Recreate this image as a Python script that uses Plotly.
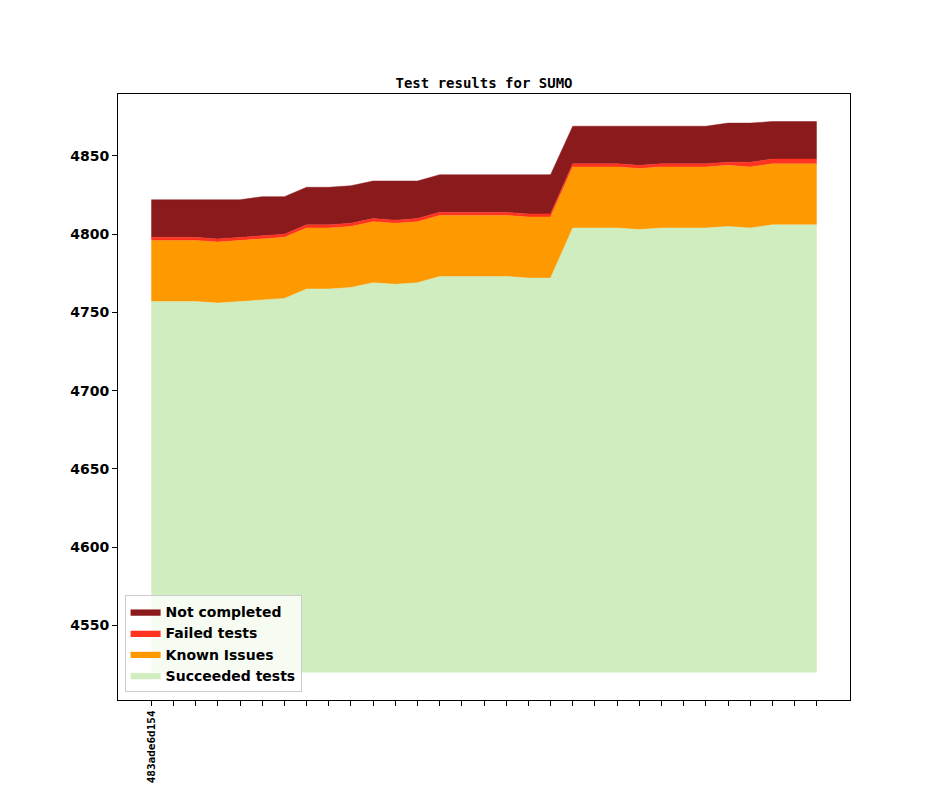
import numpy as np
import plotly.graph_objects as go

# one entry per commit, only the first one is labelled on the axis
commits = ["483ade6d154"] + [""] * 30

succeeded = [4757, 4757, 4757, 4756, 4757, 4758, 4759, 4765, 4765, 4766, 4769,
             4768, 4769, 4773, 4773, 4773, 4773, 4772, 4772, 4804, 4804, 4804,
             4803, 4804, 4804, 4804, 4805, 4804, 4806, 4806, 4806]
known_issues = [39, 39, 39, 39, 39, 39, 39, 39, 39, 39, 39, 39, 39, 39, 39, 39,
                39, 39, 39, 39, 39, 39, 39, 39, 39, 39, 39, 39, 39, 39, 39]
failed = [2, 2, 2, 2, 2, 2, 2, 2, 2, 2, 2, 2, 2, 2, 2, 2,
          2, 2, 2, 2, 2, 2, 2, 2, 2, 2, 2, 3, 3, 3, 3]
not_completed = [24, 24, 24, 25, 24, 25, 24, 24, 24, 24, 24, 25, 24, 24, 24, 24,
                 24, 25, 25, 24, 24, 24, 25, 24, 24, 24, 25, 25, 24, 24, 24]
base = 4520

x = np.arange(len(commits))
series = [
    ("Succeeded tests", succeeded, "#cfedbf"),
    ("Known Issues", known_issues, "#ff9900"),
    ("Failed tests", failed, "#ff3320"),
    ("Not completed", not_completed, "#8b1a1c"),
]

fig = go.Figure()
fig.add_trace(go.Scatter(x=x, y=[base] * len(x), mode="lines",
                         line=dict(width=0), showlegend=False, hoverinfo="skip"))
level = np.zeros(len(x))
for i, (name, vals, col) in enumerate(series):
    level = level + np.array(vals)
    y = level if i > 0 else np.array(vals, dtype=float)
    fig.add_trace(go.Scatter(x=x, y=y.copy(), name=name, mode="lines",
                             line=dict(width=0.5, color=col),
                             fill="tonexty", fillcolor=col))

top = level.max()
span = top - base
n = len(x) - 1

bold = dict(family="DejaVu Sans", size=14, color="black", weight="bold")
fig.update_layout(
    width=944, height=787,
    margin=dict(l=110, r=102, t=86, b=95),
    paper_bgcolor="white", plot_bgcolor="white",
    title=dict(text="Test results for SUMO", x=0.5, xref="paper", xanchor="center",
               y=1, yref="paper", yanchor="bottom", pad=dict(b=6),
               font=dict(family="DejaVu Sans Mono", size=14, color="black", weight="bold")),
    legend=dict(x=0.009, y=0.013, xanchor="left", yanchor="bottom",
                traceorder="reversed", bgcolor="rgba(255,255,255,0.8)",
                bordercolor="#cccccc", borderwidth=1, font=bold),
    showlegend=True,
)
fig.update_xaxes(range=[-0.05 * n, n * 1.05], tickmode="array",
                 tickvals=list(x), ticktext=commits, tickangle=-90,
                 tickfont=dict(family="DejaVu Sans Mono", size=11, color="black", weight="bold"),
                 ticks="outside", ticklen=5, tickcolor="black",
                 showline=True, linecolor="black", linewidth=1, mirror=True,
                 showgrid=False, zeroline=False)
fig.update_yaxes(range=[base - 0.05 * span, top + 0.05 * span],
                 tickvals=[4550, 4600, 4650, 4700, 4750, 4800, 4850],
                 tickfont=bold, ticks="outside", ticklen=5, tickcolor="black",
                 showline=True, linecolor="black", linewidth=1, mirror=True,
                 showgrid=False, zeroline=False)

fig.write_html("out.html")
